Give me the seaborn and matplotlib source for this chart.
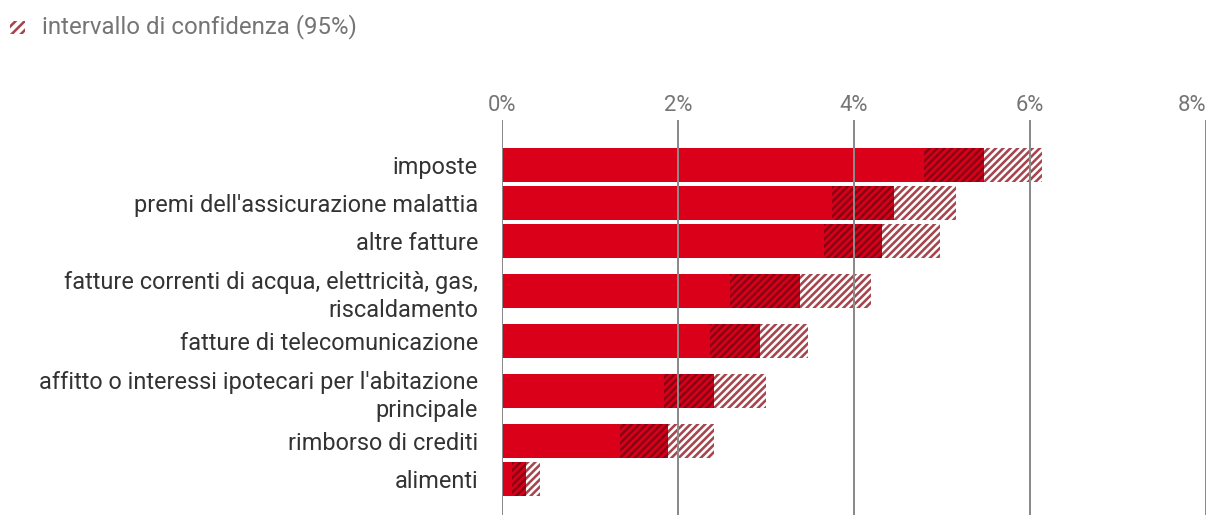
import numpy as np
import pandas as pd
import matplotlib
matplotlib.use("Agg")
import matplotlib.pyplot as plt
from matplotlib.patches import Rectangle
from matplotlib.transforms import ScaledTranslation
import seaborn as sns

categories = [
    "imposte",
    "premi dell'assicurazione malattia",
    "altre fatture",
    "fatture correnti di acqua, elettricità, gas,\nriscaldamento",
    "fatture di telecomunicazione",
    "affitto o interessi ipotecari per l'abitazione\nprincipale",
    "rimborso di crediti",
    "alimenti",
]
values = [5.48, 4.45, 4.32, 3.39, 2.93, 2.41, 1.89, 0.27]
ci_low = [4.80, 3.75, 3.66, 2.59, 2.36, 1.84, 1.34, 0.11]
ci_high = [6.14, 5.16, 4.98, 4.19, 3.48, 3.00, 2.41, 0.43]
x_ticks = [0, 2, 4, 6, 8]
x_tick_labels = ["0%", "2%", "4%", "6%", "8%"]
legend_label = "intervallo di confidenza (95%)"

RED = "#DA001A"
DARK = "#8C0014"
LIGHT = "#A5464F"
GRID = "#8A8A8A"

DPI = 110
W, H = 1220, 526


def px(v):
    return v * 72 / DPI


sns.set_theme(style="white")
plt.rcParams["font.family"] = ["Roboto", "DejaVu Sans"]
plt.rcParams["hatch.linewidth"] = 1.7

# row layout: single-line rows 38 px, two-line rows 62 px
row_h = np.array([62 if "\n" in c else 38 for c in categories], dtype=float)
centers = np.cumsum(row_h) - row_h / 2
bar_h = 34
HATCH = "/////"

fig = plt.figure(figsize=(W / DPI, H / DPI), dpi=DPI)
ax = fig.add_axes([502 / W, 1 - 515 / H, (1206 - 502) / W, (515 - 120) / H])

df = pd.DataFrame({"cat": categories, "value": values, "pos": centers})
sns.barplot(data=df, x="value", y="pos", orient="y", native_scale=True,
            width=bar_h / np.min(np.diff(centers)), color=RED, saturation=1,
            linewidth=0, errorbar=None, ax=ax)

lo = np.array(ci_low)
hi = np.array(ci_high)
val = np.array(values)
ax.barh(centers, val - lo, left=lo, height=bar_h, facecolor="none",
        edgecolor=DARK, hatch=HATCH, linewidth=0, zorder=1.5)
ax.barh(centers, hi - val, left=val, height=bar_h, facecolor="white",
        edgecolor=LIGHT, hatch=HATCH, linewidth=0, zorder=1.5)

ax.set_xlim(0, 8)
ax.set_ylim(515 - 146, 120 - 146)
ax.set_axisbelow(False)
ax.xaxis.grid(True, color=GRID, linewidth=px(2))
ax.yaxis.grid(False)
for s in ax.spines.values():
    s.set_visible(False)

ax.xaxis.tick_top()
ax.set_xticks(x_ticks, x_tick_labels)
ax.tick_params(axis="x", length=0, pad=px(4), labelsize=px(22), labelcolor="#757575")
last = ax.get_xticklabels()[-1]
last.set_transform(last.get_transform() + ScaledTranslation(-14 / DPI, 0, fig.dpi_scale_trans))
ax.set_yticks(centers, categories)
ax.tick_params(axis="y", length=0, pad=px(24), labelsize=px(23.5), labelcolor="#333333")
for t in ax.get_yticklabels():
    t.set_linespacing(1.28)
ax.set_xlabel("")
ax.set_ylabel("")

fig.add_artist(Rectangle((10 / W, 1 - 34 / H), 15 / W, 13 / H, transform=fig.transFigure,
                         facecolor="white", edgecolor=LIGHT, hatch="////", linewidth=0))
fig.text(42 / W, 1 - 27 / H, legend_label, va="center", ha="left",
         fontsize=px(24), color="#757575")

fig.savefig("out.png", dpi=DPI)
